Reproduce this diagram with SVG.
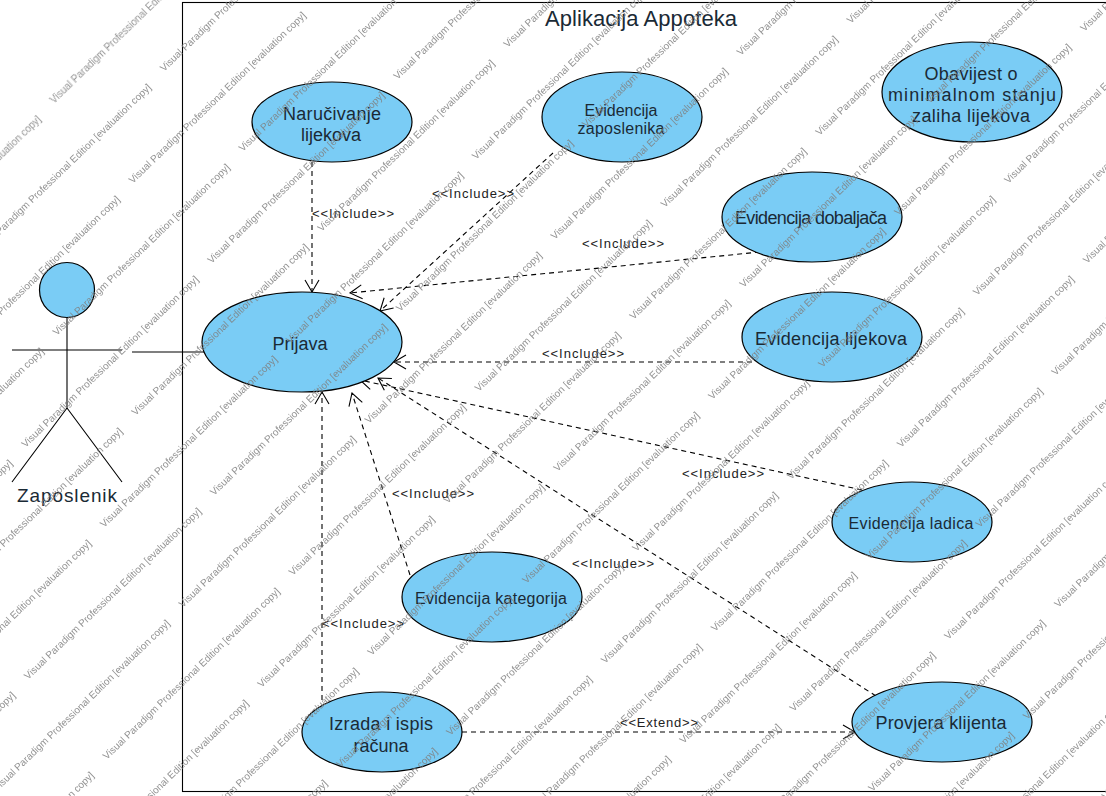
<svg xmlns="http://www.w3.org/2000/svg" xmlns:xlink="http://www.w3.org/1999/xlink" width="1106" height="796" viewBox="0 0 1106 796">
<style>
text{font-family:"Liberation Sans",Arial,sans-serif;fill:#1a2a35}
.n{font-size:18px;text-anchor:middle}
.s{font-size:16px;text-anchor:middle}
.l{font-size:13px;text-anchor:middle;fill:#222}
ellipse,circle{fill:#7accf5;stroke:#000;stroke-width:1.2}
.line{fill:none;stroke:#000;stroke-width:1.1}
.dash{fill:none;stroke:#000;stroke-width:1.1;stroke-dasharray:5 4;marker-end:url(#open)}
.wm{font-size:10px;fill:#808080}
</style>
<defs>
<marker id="open" markerUnits="userSpaceOnUse" markerWidth="20" markerHeight="20" refX="15" refY="10" orient="auto"><path d="M3 3L15 10L3 17" fill="none" stroke="#000" stroke-width="1.1"/></marker>
<text id="wm" class="wm" transform="rotate(-44)">Visual Paradigm Professional Edition [evaluation copy]</text>
<g id="wmrow">
<use xlink:href="#wm" transform="translate(-508,654)"/>
<use xlink:href="#wm" transform="translate(-322,470)"/>
<use xlink:href="#wm" transform="translate(-136,286)"/>
<use xlink:href="#wm" transform="translate(50,102)"/>
<use xlink:href="#wm" transform="translate(236,-82)"/>
<use xlink:href="#wm" transform="translate(422,-266)"/>
<use xlink:href="#wm" transform="translate(608,-450)"/>
</g>
<g id="wmpair">
<use xlink:href="#wmrow"/>
<use xlink:href="#wmrow" transform="translate(110,-32)"/>
</g>
</defs>
<rect width="1106" height="796" fill="#fff"/>
<rect x="182.500" y="2.500" width="930" height="789" fill="none" stroke="#000" stroke-width="1.1"/>
<text x="641" y="26" font-size="22" text-anchor="middle" textLength="192">Aplikacija Appoteka</text>
<g id="connectors">
<path class="line" d="M132 352H204"/>
<path class="dash" d="M312 162V292"/>
<path class="dash" d="M553 153L380 311"/>
<path class="dash" d="M760 252L350 293"/>
<path class="dash" d="M752 362H394"/>
<path class="dash" d="M862 490L360 380"/>
<path class="dash" d="M876 696L378 378"/>
<path class="dash" d="M410 575L352 393"/>
<path class="dash" d="M322 700V392"/>
<path class="dash" d="M462 732H855"/>
<text class="l" x="353" y="218" textLength="82">&lt;&lt;Include&gt;&gt;</text>
<text class="l" x="473" y="198" textLength="82">&lt;&lt;Include&gt;&gt;</text>
<text class="l" x="623" y="248" textLength="82">&lt;&lt;Include&gt;&gt;</text>
<text class="l" x="583" y="358" textLength="82">&lt;&lt;Include&gt;&gt;</text>
<text class="l" x="723" y="478" textLength="82">&lt;&lt;Include&gt;&gt;</text>
<text class="l" x="433" y="498" textLength="82">&lt;&lt;Include&gt;&gt;</text>
<text class="l" x="613" y="568" textLength="82">&lt;&lt;Include&gt;&gt;</text>
<text class="l" x="363" y="628" textLength="82">&lt;&lt;Include&gt;&gt;</text>
<text class="l" x="659" y="727" textLength="78">&lt;&lt;Extend&gt;&gt;</text>
</g>
<g id="actor">
<circle cx="67" cy="290" r="27.500"/>
<path class="line" d="M67 318V408M12 350H122M67 408L12 482M67 408L122 482"/>
<text x="67" y="502" font-size="19" text-anchor="middle" textLength="100">Zaposlenik</text>
</g>
<g id="n1"><ellipse cx="332" cy="122" rx="80" ry="40"/><text class="n" x="332" y="120" textLength="98">Naručivanje</text><text class="n" x="331" y="141">lijekova</text></g>
<g id="n2"><ellipse cx="622" cy="117" rx="80" ry="45"/><text class="s" x="621" y="116">Evidencija</text><text class="s" x="621" y="134" textLength="87">zaposlenika</text></g>
<g id="n3"><ellipse cx="972" cy="92" rx="90" ry="50"/><text class="n" x="971" y="80" textLength="93">Obavijest o</text><text class="n" x="972" y="101" textLength="168">minimalnom stanju</text><text class="n" x="971" y="122" textLength="118">zaliha lijekova</text></g>
<g id="n4"><ellipse cx="812" cy="217" rx="90" ry="45"/><text class="n" x="811" y="224" textLength="152">Evidencija dobaljača</text></g>
<g id="n5"><ellipse cx="302" cy="342" rx="100" ry="50"/><text class="n" x="300" y="350">Prijava</text></g>
<g id="n6"><ellipse cx="832" cy="337" rx="90" ry="45"/><text class="n" x="831" y="345" textLength="152">Evidencija lijekova</text></g>
<g id="n7"><ellipse cx="912" cy="522" rx="80" ry="40"/><text class="s" x="911" y="529" textLength="125">Evidencija ladica</text></g>
<g id="n8"><ellipse cx="492" cy="597" rx="90" ry="45"/><text class="s" x="491" y="604" textLength="152">Evidencija kategorija</text></g>
<g id="n9"><ellipse cx="382" cy="732" rx="80" ry="40"/><text class="n" x="381" y="730" textLength="104">Izrada i ispis</text><text class="n" x="381" y="752">računa</text></g>
<g id="n10"><ellipse cx="942" cy="722" rx="90" ry="40"/><text class="n" x="941" y="729" textLength="131">Provjera klijenta</text></g>
<g id="watermark" opacity="0.85" transform="translate(4,2)">
<use xlink:href="#wmpair"/>
<use xlink:href="#wmpair" transform="translate(78.700,80)"/>
<use xlink:href="#wmpair" transform="translate(157.400,160)"/>
<use xlink:href="#wmpair" transform="translate(236.100,240)"/>
<use xlink:href="#wmpair" transform="translate(314.800,320)"/>
<use xlink:href="#wmpair" transform="translate(393.500,400)"/>
<use xlink:href="#wmpair" transform="translate(472.200,480)"/>
<use xlink:href="#wmpair" transform="translate(550.900,560)"/>
<use xlink:href="#wmpair" transform="translate(629.600,640)"/>
<use xlink:href="#wmpair" transform="translate(708.300,720)"/>
<use xlink:href="#wmpair" transform="translate(787,800)"/>
<use xlink:href="#wmpair" transform="translate(865.700,880)"/>
</g>
</svg>
